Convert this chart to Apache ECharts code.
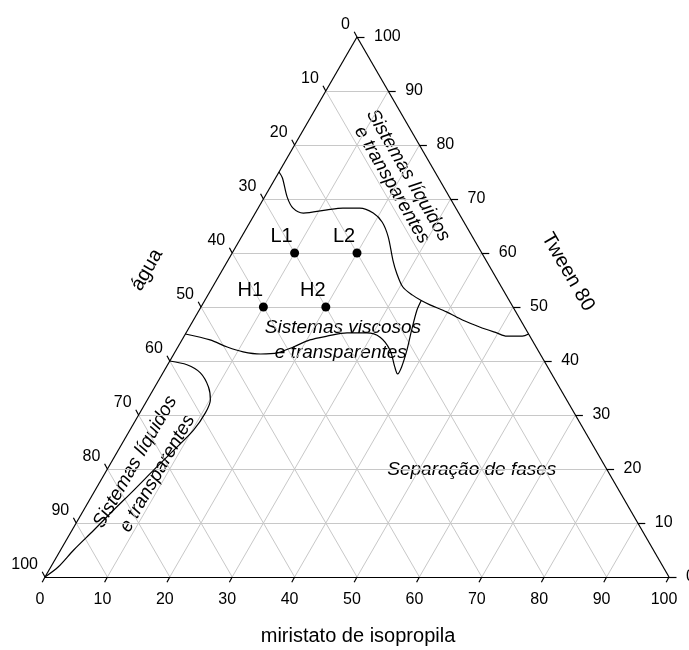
<!DOCTYPE html>
<html>
<head>
<meta charset="utf-8">
<script src="https://cdn.jsdelivr.net/npm/echarts@6/dist/echarts.min.js"></script>
<style>
html, body { margin: 0; padding: 0; background: #fff; }
#main { width: 689px; height: 650px; }
</style>
</head>
<body>
<div id="main"></div>
<script>
// ternary axis ticks, in percent
var ticks = [0, 10, 20, 30, 40, 50, 60, 70, 80, 90, 100];

// formulations, [miristato de isopropila %, Tween 80 %] (água = rest)
var pointNames = ["L1", "L2", "H1", "H2"];
var pointIpm = [10, 20, 10, 20];
var pointTween = [60, 60, 50, 50];

// phase boundaries, [miristato %, Tween %]
var upperBoundary = [
    [0, 75], [1.1, 73.9], [3.6, 70.4], [5.6, 68.3], [7.7, 67.4], [11.2, 68.0],
    [13.6, 68.3], [16.3, 68.3], [18.9, 67.4], [21.2, 65.7], [23.5, 63.0],
    [26.4, 58.7], [28.2, 56.3], [30.5, 53.7], [32.8, 52.2], [34.7, 51.2],
    [36.5, 50.4], [39.8, 49.1], [43.1, 47.6], [46.5, 46.3], [49.8, 45.2],
    [51.7, 44.6], [54.2, 44.6], [55, 45]
];
var middleBoundary = [
    [0, 45], [4.5, 43.9], [7.9, 42.6], [10.9, 41.7], [13.9, 41.3], [16.5, 41.5],
    [18.5, 42.6], [20.5, 43.9], [22.9, 44.6], [25.8, 45.2], [29.0, 45.2],
    [31.5, 44.4], [34.3, 42.0], [36.6, 38.9], [37.7, 37.6], [37.7, 38.9],
    [37.0, 42.0], [35.9, 45.7], [34.9, 49.4], [34.7, 51.2]
];
var lowerBoundary = [
    [0, 40], [3.1, 39.3], [6.0, 37.8], [8.6, 35.2], [10.1, 32.8], [10.5, 30.4],
    [10.2, 27.2], [8.9, 23.5], [7.5, 19.8], [6.2, 16.1], [4.8, 12.4],
    [3.5, 8.7], [2.1, 5.0], [1.2, 1.9], [0, 0]
];

var FONT = "Liberation Sans";
var S = Math.sqrt(3) / 2;

/* ternary (ipm, tween) -> cartesian data units */
function tern(ipm, tween) {
    return [ipm + tween / 2, tween * S];
}

function seg(a, b) {
    return { coords: [a, b] };
}

/* Grid lines, every 10 % in the three directions */
var gridSegs = [];
ticks.forEach(function (v) {
    if (v == 0 || v == 100) return;
    gridSegs.push(seg(tern(0, v), tern(100 - v, v)));       // Tween const
    gridSegs.push(seg(tern(v, 0), tern(v, 100 - v)));       // miristato const
    gridSegs.push(seg(tern(0, 100 - v), tern(100 - v, 0))); // agua const
});

var edgeSegs = [
    seg(tern(0, 0), tern(100, 0)),
    seg(tern(100, 0), tern(0, 100)),
    seg(tern(0, 100), tern(0, 0))
];

var tickSegs = [];
ticks.forEach(function (v) {
    var b = tern(v, 0);
    tickSegs.push(seg(b, [b[0] - 0.45, b[1] - 0.85]));
    var r = tern(100 - v, v);
    tickSegs.push(seg(r, [r[0] + 1.2, r[1]]));
    var l = tern(0, 100 - v);
    tickSegs.push(seg(l, [l[0] - 0.45, l[1] + 0.85]));
});

function curve(name, pts) {
    return {
        name: name,
        type: "line",
        smooth: 0.3,
        symbol: "none",
        silent: true,
        lineStyle: { color: "#000", width: 1.2 },
        data: pts.map(function (p) { return tern(p[0], p[1]); })
    };
}

var myChart = echarts.init(document.getElementById("main"), null, { renderer: "canvas" });

var option = {
    animation: false,
    backgroundColor: "#fff",
    grid: { left: 45, right: 20, top: 37, bottom: 73 },
    xAxis: { type: "value", min: 0, max: 100, show: false },
    yAxis: { type: "value", min: 0, max: 100 * S, show: false },
    series: [
        {
            type: "lines", coordinateSystem: "cartesian2d", silent: true, clip: false,
            lineStyle: { color: "#c8c8c8", width: 1, opacity: 1 },
            data: gridSegs
        },
        {
            type: "lines", coordinateSystem: "cartesian2d", silent: true, clip: false,
            lineStyle: { color: "#000", width: 1.2, opacity: 1 },
            data: edgeSegs.concat(tickSegs)
        },
        curve("upper", upperBoundary),
        curve("middle", middleBoundary),
        curve("lower", lowerBoundary),
        {
            type: "scatter",
            symbolSize: 9,
            silent: true,
            itemStyle: { color: "#000", opacity: 1 },
            label: {
                show: true, formatter: "{b}", position: "top", distance: 2,
                offset: [-13, 0], fontSize: 20, fontFamily: FONT, color: "#000"
            },
            data: pointNames.map(function (n, i) {
                return { name: n, value: tern(pointIpm[i], pointTween[i]) };
            })
        }
    ]
};
myChart.setOption(option);

/* Texts placed from the chart's own scale */
function px(ipm, tween) {
    return myChart.convertToPixel({ gridIndex: 0 }, tern(ipm, tween));
}

var texts = [];
function addText(str, x, y, opts) {
    opts = opts || {};
    texts.push({
        type: "text",
        x: x, y: y,
        rotation: opts.rotation || 0,
        silent: true,
        style: {
            text: str,
            fontSize: opts.size || 16,
            fontFamily: FONT,
            fontStyle: opts.italic ? "italic" : "normal",
            fill: "#000",
            align: opts.align || "center",
            verticalAlign: "middle"
        }
    });
}

ticks.forEach(function (v) {
    var b = px(v, 0);
    addText(String(v), b[0] - 5, b[1] + 23);
    var r = px(100 - v, v);
    addText(String(v), r[0] + 17, r[1], { align: "left" });
    var l = px(0, 100 - v);
    addText(String(v), l[0] - 7, l[1] - 12, { align: "right" });
});

var R = Math.PI / 3;
var p;
p = px(24.7, 46.1); addText("Sistemas viscosos", p[0], p[1], { size: 19, italic: true });
p = px(26.6, 41.6); addText("e transparentes", p[0], p[1], { size: 19, italic: true });
p = px(58.5, 19.8); addText("Separação de fases", p[0], p[1], { size: 19, italic: true });
p = px(21.0, 74.4); addText("Sistemas líquidos", p[0], p[1], { size: 19, italic: true, rotation: -R });
p = px(19.3, 72.6); addText("e transparentes", p[0], p[1], { size: 19, italic: true, rotation: -R });
p = px(3.8, 21.3); addText("Sistemas líquidos", p[0], p[1], { size: 19, italic: true, rotation: R });
p = px(8.4, 19.2); addText("e transparentes", p[0], p[1], { size: 19, italic: true, rotation: R });

addText("água", 147, 270, { size: 20, rotation: R });
addText("Tween 80", 568, 272, { size: 20, rotation: -R });
addText("miristato de isopropila", 358, 636, { size: 20 });

myChart.setOption({ graphic: texts });
</script>
</body>
</html>
